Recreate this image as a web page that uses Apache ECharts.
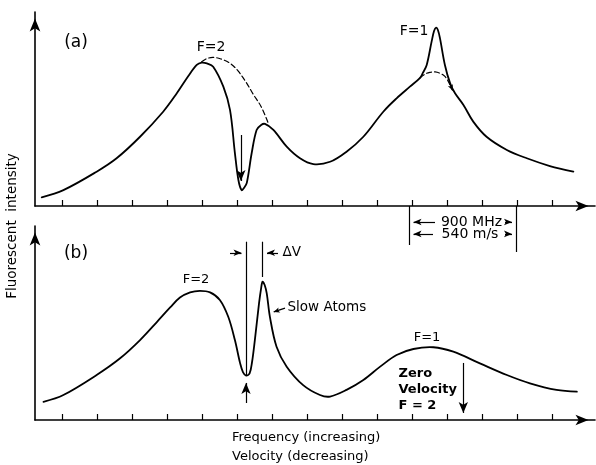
<!DOCTYPE html>
<html><head><meta charset="utf-8">
<script src="https://cdn.jsdelivr.net/npm/echarts@6/dist/echarts.min.js"></script>
<style>html,body{margin:0;padding:0;background:#fff}#c{width:596px;height:465px}</style>
</head><body><div id="c"></div>
<script>
const FONT = 'DejaVu Sans';
// tick positions (arbitrary frequency units, one per tick)
const tickValues = [1,2,3,4,5,6,7,8,9,10,11,12,13,14,15];

// (a) measured fluorescence, solid
const curveA = [
 [0.42,4.5],[1.04,8.2],[1.99,17.7],[2.56,24.6],[3.23,35.7],[3.89,48.6],[4.28,58.1],[4.61,67.0],
 [4.85,72.7],[4.99,73.9],[5.14,73.5],[5.32,71.8],[5.61,61.5],[5.80,49.5],[5.94,27.3],[6.04,13.4],
 [6.13,8.2],[6.20,9.3],[6.28,11.9],[6.42,27.3],[6.56,39.2],[6.69,41.8],[6.80,42.3],[7.04,39.2],
 [7.42,30.6],[7.80,24.6],[8.18,21.6],[8.66,22.8],[9.13,28.0],[9.61,35.7],[10.18,48.6],[10.56,55.5],
 [10.94,61.5],[11.23,66.1],[11.31,68.6],[11.42,72.7],[11.56,84.7],[11.63,90.2],[11.69,91.9],
 [11.74,90.7],[11.80,86.4],[11.94,72.7],[12.09,63.2],[12.23,58.1],[12.47,52.1],[12.75,43.5],
 [13.13,35.7],[13.71,28.9],[14.28,24.6],[14.94,20.6],[15.61,17.7]
];
// (a) unperturbed profile, dashed
const dashAF2 = [[4.99,74.4],[5.14,76.0],[5.32,76.6],[5.54,75.8],[5.80,73.6],[6.03,69.6],[6.28,63.2],[6.46,57.7],[6.69,51.2],[6.89,42.8]];
const dashAF1 = [[11.23,66.1],[11.37,68.0],[11.51,68.9],[11.66,69.1],[11.80,68.4],[11.94,66.8],[12.04,64.1],[12.15,60.0]];

// (b) measured fluorescence
const curveB = [
 [0.47,9.4],[1.04,12.9],[1.99,23.2],[2.66,31.8],[3.23,41.2],[3.71,50.5],[4.09,58.0],[4.37,63.1],
 [4.66,65.8],[4.94,66.6],[5.23,65.8],[5.51,61.9],[5.75,53.2],[5.94,41.2],[6.09,29.2],[6.17,24.7],
 [6.26,22.9],[6.36,24.0],[6.43,29.9],[6.51,41.2],[6.63,60.2],[6.69,68.0],[6.73,71.3],[6.79,69.6],
 [6.85,65.3],[6.94,53.2],[7.13,37.8],[7.42,27.5],[7.89,18.0],[8.37,12.9],[8.66,12.1],[9.13,15.5],
 [9.61,20.6],[10.09,27.5],[10.56,33.5],[11.04,36.6],[11.61,37.5],[12.18,35.2],[12.94,29.2],
 [13.71,23.2],[14.37,18.9],[15.13,15.5],[15.71,14.6]
];

// annotation segments [from, to, arrowAtEnd]
const segA = [
 [[6.11,36.6],[6.11,12.9],'big'],
 [[12.08,63.0],[12.16,59.5],'tiny'],
 [[10.914,0],[10.914,-20.1],null],
 [[13.986,0],[13.986,-23.7],null],
 [[11.657,-8.25],[11.043,-8.25],'small'],
 [[13.657,-8.25],[13.857,-8.25],'small'],
 [[11.60,-14.4],[11.043,-14.4],'small'],
 [[13.657,-14.4],[13.857,-14.4],'small']
];
const segB = [
 [[6.257,91.9],[6.257,23.2],null],
 [[6.729,91.9],[6.729,73.7],null],
 [[5.80,86.2],[6.129,86.2],'small'],
 [[7.171,86.2],[6.857,86.2],'small'],
 [[6.257,8.76],[6.257,19.1],'big'],
 [[7.371,57.7],[7.049,55.7],'tiny'],
 [[12.466,29.4],[12.466,3.6],'big']
];
// annotation texts [text, anchor, kind]
const textA = [
 ['(a)',[1.40,84.0],'panel'],
 ['F=2',[5.26,82.0],'peak'],
 ['F=1',[11.06,90.2],'peak'],
 ['900 MHz',[12.70,-8.25],'peak'],
 ['540 m/s',[12.657,-14.4],'peak']
];
const textB = [
 ['(b)',[1.40,85.6],'panel'],
 ['F=2',[4.83,72.2],'small'],
 ['ΔV',[7.286,86.2],'smallLeft'],
 ['Slow Atoms',[7.429,58.0],'smallLeft'],
 ['F=1',[11.43,42.3],'small'],
 ['Zero\nVelocity\nF = 2',[10.60,15.5],'bold']
];

const arrowSizes = {big:[7,11], small:[5,8], tiny:[4,6]};
function segData(list){
  return list.map(s => ({
    coords:[s[0], s[1]],
    symbol:['none', s[2] ? 'arrow' : 'none'],
    symbolSize: s[2] ? [0, arrowSizes[s[2]]] : 0
  }));
}
const textStyles = {
  panel:{fontSize:17, position:'inside'},
  peak:{fontSize:14, position:'inside'},
  small:{fontSize:13, position:'inside'},
  smallLeft:{fontSize:13.5, position:'right', distance:0},
  bold:{fontSize:13, fontWeight:'bold', position:'right', distance:0, lineHeight:16, align:'left'}
};
function textData(list){
  return list.map(t => ({
    value:t[1],
    label:Object.assign({show:true, formatter:t[0], color:'#000', opacity:1, fontFamily:FONT}, textStyles[t[2]])
  }));
}

function xAx(i){
  return {
    type:'value', gridIndex:i, min:8/35, max:568/35,
    axisLine:{show:true, onZero:false, symbol:['none','arrow'], symbolSize:[8,13], symbolOffset:[0,-6.5], lineStyle:{color:'#000', width:1.6}},
    axisTick:{show:true, inside:true, length:6, customValues:tickValues, lineStyle:{color:'#000', width:1.2}},
    axisLabel:{show:false}, splitLine:{show:false}
  };
}
function yAx(i){
  return {
    type:'value', gridIndex:i, min:0, max:100,
    axisLine:{show:true, onZero:false, symbol:['none','arrow'], symbolSize:[8,13], symbolOffset:[0,-6.5], lineStyle:{color:'#000', width:1.6}},
    axisTick:{show:false}, axisLabel:{show:false}, splitLine:{show:false}
  };
}
// smooth curve through the measured points, positioned by the axes (api.coord)
function curve(data, i, dashed){
  return {type:'custom', coordinateSystem:'cartesian2d', xAxisIndex:i, yAxisIndex:i, data:data, clip:false, silent:true, z:3,
    renderItem:function(params, api){
      if (params.dataIndex !== 0) return null;
      return {type:'polyline',
        shape:{points:data.map(p => api.coord(p)), smooth:0.35},
        style:{stroke:'#000', fill:null, lineWidth:dashed?1.2:1.8, lineDash:dashed?[5,3]:null, lineJoin:'round', lineCap:'round'}};
    }};
}
function segs(list, i){
  return {type:'lines', coordinateSystem:'cartesian2d', xAxisIndex:i, yAxisIndex:i, clip:false, silent:true,
    lineStyle:{color:'#000', width:1.2, opacity:1}, itemStyle:{color:'#000'}, data:segData(list), z:4};
}
function texts(list, i){
  return {type:'scatter', xAxisIndex:i, yAxisIndex:i, clip:false, silent:true, symbolSize:1,
    itemStyle:{color:'rgba(0,0,0,0)', opacity:1}, data:textData(list), z:5};
}

const chart = echarts.init(document.getElementById('c'), null, {renderer:'canvas'});
chart.setOption({
  animation:false,
  backgroundColor:'#fff',
  grid:[
    {left:35, top:12, width:560, height:194},
    {left:35, top:226, width:560, height:194}
  ],
  xAxis:[xAx(0), xAx(1)],
  yAxis:[yAx(0), yAx(1)],
  series:[
    curve(curveA,0,false), curve(dashAF2,0,true), curve(dashAF1,0,true),
    curve(curveB,1,false),
    segs(segA,0), segs(segB,1),
    texts(textA,0), texts(textB,1)
  ],
  graphic:[
    {type:'text', x:12, y:226, rotation:Math.PI/2, style:{text:'Fluorescent  intensity', font:'13.5px "DejaVu Sans"', fill:'#000', align:'center', verticalAlign:'middle'}},
    {type:'text', x:232, y:438, style:{text:'Frequency (increasing)', font:'13px "DejaVu Sans"', fill:'#000', align:'left', verticalAlign:'middle'}},
    {type:'text', x:232, y:457, style:{text:'Velocity (decreasing)', font:'13px "DejaVu Sans"', fill:'#000', align:'left', verticalAlign:'middle'}}
  ]
});
</script></body></html>
